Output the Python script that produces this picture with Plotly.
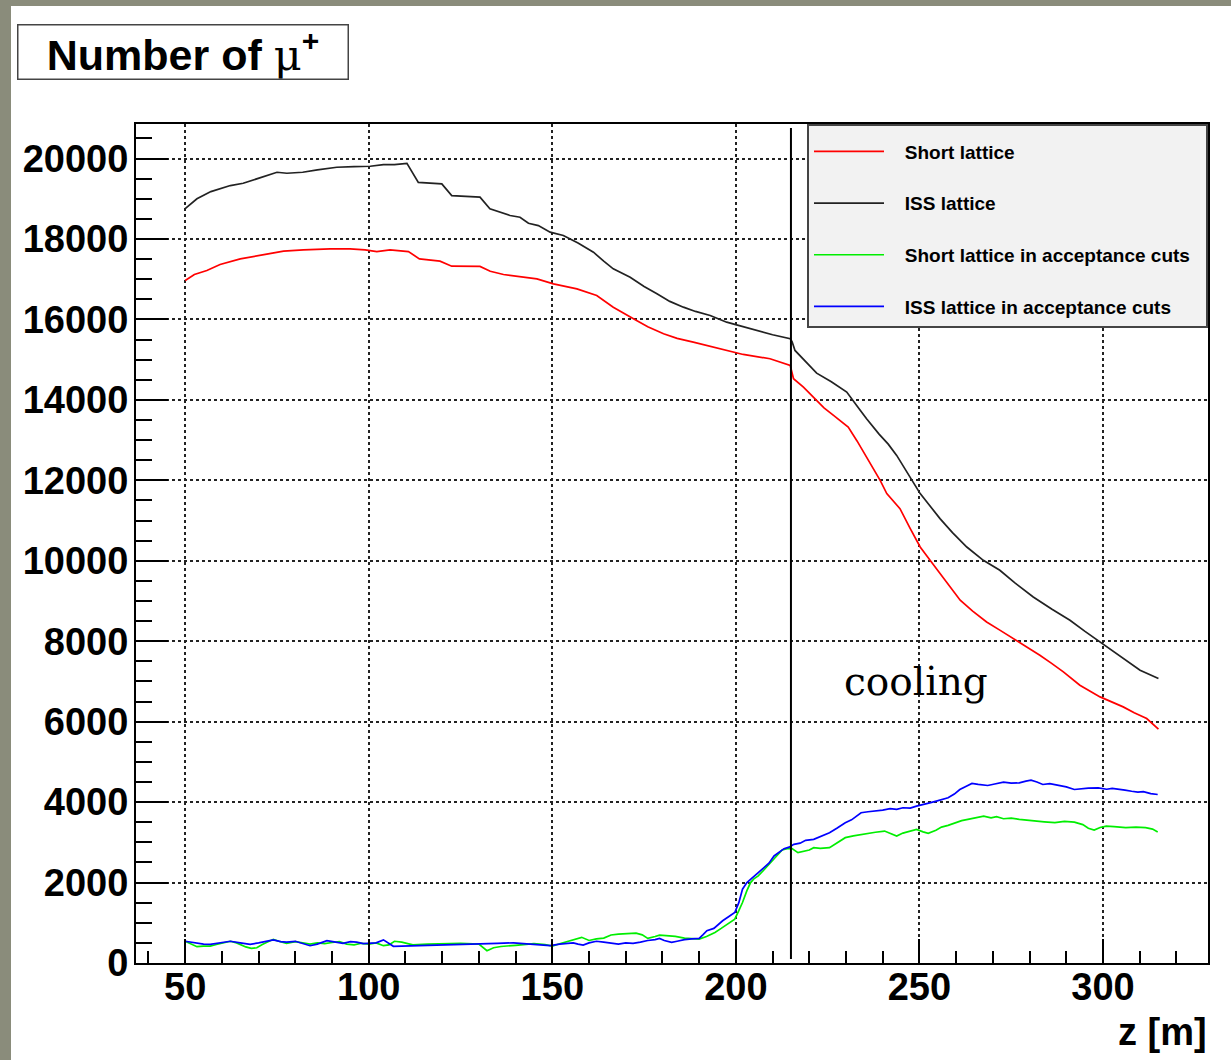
import plotly.graph_objects as go

# ---------------- data ----------------
z_iss = [50, 53.2, 57, 62.3, 65.8, 70, 75, 77.7, 82, 86, 91.3, 96, 100.4, 104, 107, 110.4,
         113.5, 119.9, 122.6, 130.3, 133, 138.5, 141.2, 143.5, 146.2, 149.4, 153, 157, 161.2,
         164, 166.6, 171.2, 175, 178.5, 182, 185.7, 189, 193, 197.5, 200.2, 205.7, 210, 214.8,
         215.3, 216.1, 219, 222, 226, 230.2, 233, 235.6, 239, 241.5, 243.8, 247, 250.2, 253,
         255.6, 259, 262.9, 267.4, 271.9, 276, 281, 286, 291, 295, 299.2, 304.6, 310.1, 315.1]
n_iss = [18758, 19000, 19180, 19330, 19386, 19510, 19660, 19635, 19660, 19720, 19785, 19800,
         19810, 19850, 19850, 19880, 19410, 19370, 19080, 19040, 18750, 18584, 18542, 18393,
         18335, 18170, 18087, 17900, 17672, 17450, 17259, 17051, 16820, 16638, 16450, 16306,
         16200, 16100, 15933, 15867, 15727, 15620, 15520, 15450, 15230, 14950, 14666, 14450,
         14194, 13850, 13532, 13150, 12900, 12620, 12150, 11670, 11350, 11048, 10700, 10343,
         10012, 9764, 9450, 9101, 8800, 8522, 8250, 7983, 7652, 7280, 7073]

z_short = [50, 52.5, 55.9, 59.5, 65, 69, 73.1, 76.8, 82.2, 89.5, 94.9, 99, 102.2, 105.8, 110.8,
           113.8, 119.4, 122.6, 130.3, 133.1, 136.7, 142.1, 145.8, 150.3, 156.7, 162.1, 166.6,
           172.1, 176, 180.3, 184, 188.4, 193, 197.5, 202, 209.3, 214.8, 215.7, 218.4, 221.1,
           224, 226.6, 230.6, 233, 235.6, 239.3, 241.1, 244.7, 247.5, 250.2, 253, 255.6, 258.5,
           261.1, 264.5, 268.3, 272, 275.6, 279, 282.8, 286, 289.2, 293.7, 299.2, 305.5, 308.5,
           311.9, 315.1]
n_short = [16969, 17120, 17217, 17366, 17507, 17570, 17631, 17697, 17730, 17756, 17756, 17730,
           17689, 17730, 17689, 17507, 17449, 17325, 17320, 17200, 17118, 17051, 17010, 16886,
           16762, 16596, 16306, 16017, 15820, 15644, 15530, 15437, 15330, 15230, 15130, 15023,
           14857, 14526, 14318, 14070, 13800, 13615, 13324, 12980, 12579, 12000, 11670, 11296,
           10800, 10343, 10000, 9681, 9350, 9019, 8750, 8480, 8270, 8067, 7860, 7652, 7450,
           7238, 6907, 6616, 6368, 6220, 6079, 5813]

z_short_acc = [50, 51.5, 53.2, 55, 56.8, 58.5, 60, 62.3, 64, 65, 66.5, 68, 69.5, 71, 72.5, 74,
               75.5, 77.6, 80, 82, 84, 86, 88, 90, 92, 94, 96, 98, 100, 102, 104, 105.5, 107,
               109, 112, 116, 120, 125, 130, 132.2, 134, 136, 140, 145, 148, 150, 152, 155,
               156.5, 158, 160, 162, 164, 166, 168, 170, 172.8, 174.5, 176, 178, 179.2, 181,
               183.5, 186, 188, 190, 192, 194.3, 196, 198, 199.7, 200.8, 201.8, 203, 204, 205,
               206.1, 207.5, 209.4, 211, 212.6, 214, 215.3, 216.9, 218.5, 220, 221.2, 223,
               225.5, 227.5, 229.8, 232, 234.1, 236, 238, 240.5, 242, 243.8, 245.5, 247.5,
               249.2, 251, 252.4, 254.5, 256, 257.8, 260, 261.5, 263.2, 265.5, 267.5, 269.5,
               271, 272.9, 275, 277.2, 279, 281.5, 284, 286.9, 289.5, 292.2, 294.5, 296,
               297.6, 299.2, 300.9, 303, 306.2, 309, 311.6, 313.5, 314.9]
n_short_acc = [540, 480, 406, 420, 422, 460, 489, 540, 500, 460, 400, 365, 380, 460, 520, 588,
               540, 490, 530, 500, 470, 500, 480, 510, 530, 470, 450, 490, 470, 500, 430, 450,
               540, 520, 450, 470, 480, 490, 470, 306, 380, 410, 440, 480, 460, 420, 480, 555,
               600, 638, 560, 600, 620, 696, 720, 737, 744, 700, 612, 660, 694, 680, 661, 620,
               600, 595, 660, 760, 860, 980, 1091, 1300, 1504, 1800, 2000, 2100, 2165, 2300,
               2496, 2650, 2810, 2840, 2843, 2744, 2780, 2810, 2868, 2850, 2868, 2980, 3116,
               3160, 3198, 3230, 3250, 3281, 3220, 3157, 3230, 3280, 3322, 3260, 3223, 3300,
               3380, 3421, 3500, 3540, 3570, 3620, 3653, 3610, 3640, 3587, 3600, 3570, 3550,
               3529, 3510, 3488, 3520, 3504, 3440, 3350, 3306, 3370, 3405, 3390, 3364, 3380,
               3364, 3330, 3260]

z_iss_acc = [50, 52, 53.2, 55, 56.8, 59, 62.3, 65, 67.7, 70, 72, 74, 76, 77.6, 80, 82, 84, 86,
             88.6, 91, 93, 95, 96.7, 98.5, 100.4, 102, 104, 106.7, 109, 112, 116, 120, 125,
             130, 135, 139.4, 143, 147, 149.4, 152, 155.7, 157, 158.4, 160, 162, 164, 166, 168,
             170, 172, 174, 176, 178, 179.2, 180.5, 182.5, 184, 186, 188, 190, 191, 192.1, 194,
             196.4, 198, 199.7, 200.8, 201.8, 203, 204, 205.5, 207.2, 209, 210.4, 212, 213.1,
             214.5, 215.8, 217.5, 219, 221.2, 223, 225.5, 227.5, 229.8, 231.5, 234.1, 236,
             238.4, 240, 242, 243.8, 245.5, 247.5, 249.2, 251, 252.8, 254.6, 256, 257.8, 259.5,
             261, 262.5, 264.3, 266, 268.6, 270.5, 272.9, 275, 277.2, 279, 280.4, 282, 283.6,
             285.5, 287.9, 290, 292.2, 294, 296, 298.7, 301, 302.5, 304.1, 306, 307.8, 309.5,
             311, 313, 314.9]
n_iss_acc = [540, 510, 490, 470, 465, 490, 540, 500, 465, 500, 540, 575, 530, 520, 540, 480,
             430, 470, 555, 520, 490, 530, 520, 480, 490, 500, 575, 415, 420, 430, 440, 455,
             470, 480, 490, 500, 470, 450, 430, 470, 500, 470, 445, 500, 540, 520, 500, 470,
             500, 490, 520, 560, 580, 612, 560, 512, 540, 580, 600, 612, 700, 802, 860, 1050,
             1150, 1256, 1500, 1835, 2000, 2083, 2200, 2331, 2480, 2661, 2780, 2843, 2880,
             2950, 2980, 3050, 3074, 3150, 3240, 3350, 3488, 3560, 3735, 3760, 3777, 3800,
             3840, 3818, 3860, 3850, 3901, 3950, 3980, 4025, 4060, 4107, 4200, 4314, 4380,
             4463, 4440, 4413, 4450, 4496, 4470, 4479, 4520, 4545, 4500, 4438, 4460, 4413,
             4380, 4314, 4330, 4350, 4355, 4320, 4340, 4330, 4300, 4270, 4248, 4260, 4210,
             4190]

series_names = ["Short lattice", "ISS lattice", "Short lattice in acceptance cuts",
                "ISS lattice in acceptance cuts"]
series_colors = ["#ff0000", "#222222", "#00ee00", "#0000ff"]
cooling_z = 215
x_range = [36.6, 328.6]
y_range = [0, 20860]

# ---------------- figure ----------------
W, H = 1231, 1060
ML, MR, MT, MB = 136, 23, 124, 97
PW, PH = W - ML - MR, H - MT - MB

def px_x(p):
    return (p - ML) / PW

def px_y(p):
    return (H - MB - p) / PH

NB = "\u00a0"
fig = go.Figure()
series = [(z_short, n_short), (z_iss, n_iss), (z_short_acc, n_short_acc), (z_iss_acc, n_iss_acc)]
for i, ((zx, ny), name, col) in enumerate(zip(series, series_names, series_colors)):
    fig.add_trace(go.Scatter(x=zx, y=ny, mode="lines", name=NB * 3 + name + NB * 2,
                             legendgroup=f"g{i}", line=dict(color=col, width=1.7)))

label_font = dict(family="Liberation Sans", size=38, color="black", weight="bold")

fig.update_xaxes(range=x_range, tick0=0, dtick=50, ticks="inside", ticklen=24, tickwidth=1.5,
                 tickcolor="black", showgrid=True, gridcolor="#222222", griddash="dot",
                 gridwidth=1.5, showline=True, linecolor="black", linewidth=2, mirror=True,
                 zeroline=False, tickfont=label_font, ticklabelstandoff=-11, tickformat="d",
                 minor=dict(dtick=10, tick0=0, ticks="inside", ticklen=12, tickcolor="black",
                            tickwidth=1.5, showgrid=False))
fig.update_yaxes(range=y_range, tick0=0, dtick=2000, ticks="inside", ticklen=32, tickwidth=1.5,
                 tickcolor="black", showgrid=True, gridcolor="#222222", griddash="dot",
                 gridwidth=1.5, showline=True, linecolor="black", linewidth=2, mirror=True,
                 zeroline=False, tickfont=label_font, ticklabelstandoff=-2, tickformat="d",
                 minor=dict(dtick=500, tick0=0, ticks="inside", ticklen=16, tickcolor="black",
                            tickwidth=1.5, showgrid=False))

# cooling marker line
fig.add_shape(type="line", xref="x", yref="y", x0=cooling_z, x1=cooling_z, y0=100, y1=20760,
              line=dict(color="black", width=2))

# outer olive frame strips
olive = "#8a8c7b"
fig.add_shape(type="rect", xref="paper", yref="paper", x0=px_x(0), x1=px_x(11),
              y0=px_y(H), y1=px_y(0), fillcolor=olive, line=dict(width=0), layer="above")
fig.add_shape(type="rect", xref="paper", yref="paper", x0=px_x(0), x1=px_x(W),
              y0=px_y(6), y1=px_y(0), fillcolor=olive, line=dict(width=0), layer="above")

# title box
fig.add_annotation(xref="paper", yref="paper", x=px_x(182.5), y=px_y(52.5),
                   xanchor="center", yanchor="middle", showarrow=False,
                   text="Number of <span style='font-family:DejaVu Serif;font-weight:normal'>μ</span>"
                        "<sup><span style='font-size:30px'>+</span></sup>",
                   font=dict(family="Liberation Sans", size=43, color="black", weight="bold"),
                   width=329, height=53, bgcolor="white", bordercolor="#444444", borderwidth=1.5,
                   borderpad=0)

# axis title
fig.add_annotation(xref="paper", yref="paper", x=px_x(1209), y=px_y(1032),
                   xanchor="right", yanchor="middle", showarrow=False, text="z [m]",
                   font=label_font)

# cooling label
fig.add_annotation(xref="x", yref="y", x=249.1, y=6990, xanchor="center", yanchor="middle",
                   showarrow=False, text="cooling",
                   font=dict(family="DejaVu Serif", size=39, color="black"))

fig.update_layout(
    width=W, height=H, margin=dict(l=ML, r=MR, t=MT, b=MB, pad=0),
    paper_bgcolor="white", plot_bgcolor="white",
    showlegend=True,
    legend=dict(x=1, y=1, xanchor="right", yanchor="top", bgcolor="#f2f2f2",
                bordercolor="#444444", borderwidth=2, itemwidth=70, tracegroupgap=24,
                title=dict(text=NB, font=dict(size=5)),
                font=dict(family="Liberation Sans", size=19, color="black", weight="bold"),
                itemclick=False, itemdoubleclick=False),
)

fig.write_html("out.html")
